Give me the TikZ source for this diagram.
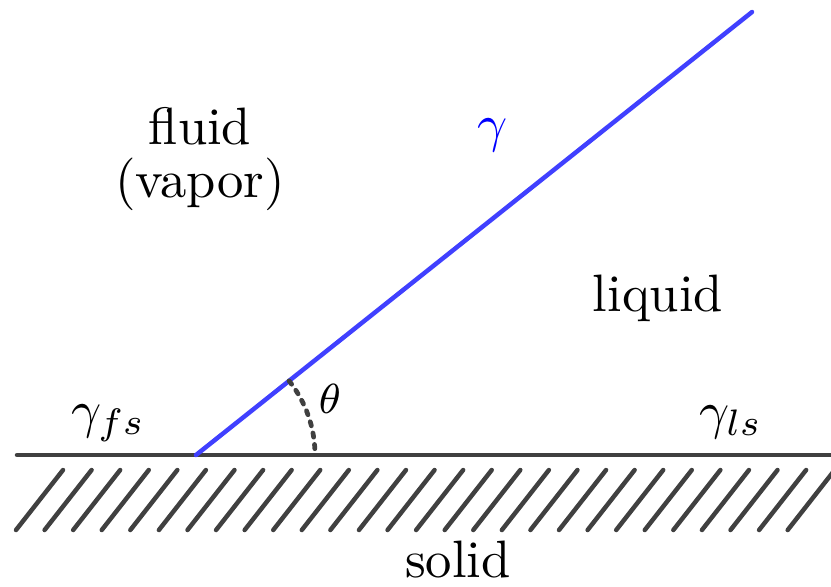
\documentclass[tikz,border=0pt]{standalone}
\usetikzlibrary{calc}
\definecolor{ink}{RGB}{64,64,64}
\definecolor{iface}{RGB}{64,64,255}
\begin{document}
\begin{tikzpicture}[x=0.19pt,y=0.19pt,
  wall/.style={draw=ink,line width=0.85pt,line cap=round},
  hatchline/.style={draw=ink,line width=0.85pt,line cap=round},
  ifaceline/.style={draw=iface,line width=0.85pt,line cap=round},
  anglearc/.style={draw=ink,line width=0.9pt,line cap=round,dash pattern=on 0.8pt off 1.4pt},
  lbl/.style={inner sep=0pt,font=\fontsize{10}{12}\selectfont}]
\useasboundingbox (0,0) rectangle (831,586);
\clip (0,0) rectangle (831,586);
% solid surface
\coordinate (wl) at (17,131);
\coordinate (wr) at (845,131);
\draw[wall] (wl) -- (wr);
% hatching
\foreach \k in {0,...,27}{
  \coordinate (hb\k) at ({16+28.58*\k},56);
  \coordinate (ht\k) at ({63+28.58*\k},116);
  \draw[hatchline] (hb\k) -- (ht\k);
}
% interface
\coordinate (cp) at (196,131);
\coordinate (top) at (752,574);
\draw[ifaceline] (cp) -- (top);
% contact angle
\draw[anglearc] ($(cp)+(38.55:119)$) arc[start angle=38.55,end angle=0,radius=119];
% labels
\node[lbl,anchor=base] (fluid) at (200,442) {fluid};
\node[lbl,anchor=base] (vapor) at (200,389) {(vapor)};
\node[lbl,anchor=base,text=blue] (gam) at (493,445) {$\gamma$};
\node[lbl,anchor=base] (liquid) at (658,275) {liquid};
\node[lbl,anchor=base,font=\fontsize{8}{10}\selectfont] (theta) at (330,173) {$\theta$};
\node[lbl,anchor=base west] (gfs) at (70,159) {$\gamma_{fs}$};
\node[lbl,anchor=base west] (gls) at (698,158) {$\gamma_{ls}$};
\node[lbl,anchor=base] (solid) at (458,9) {solid};
\end{tikzpicture}
\end{document}
